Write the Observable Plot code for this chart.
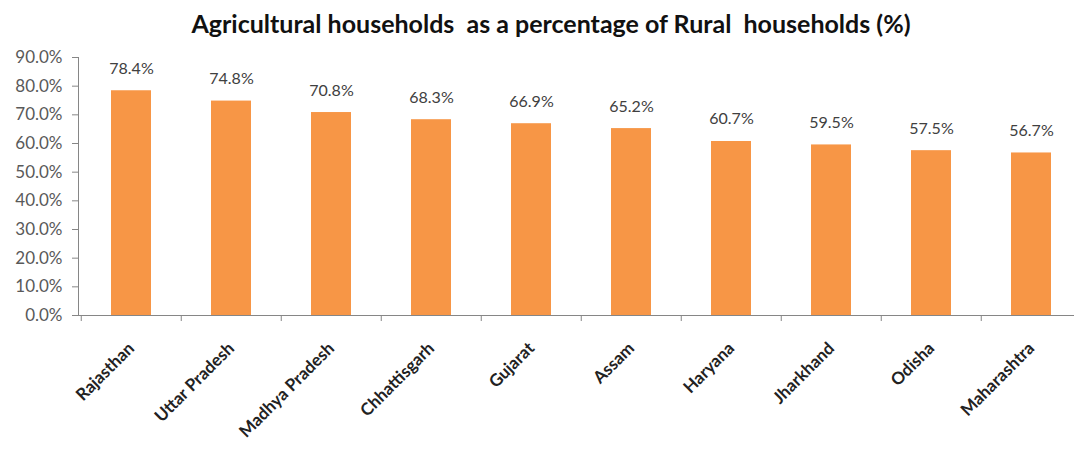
<!DOCTYPE html>
<html>
<head>
<meta charset="utf-8">
<script src="https://cdn.jsdelivr.net/npm/d3@7"></script>
<script src="https://cdn.jsdelivr.net/npm/@observablehq/plot@0.6"></script>
<style>
  html, body { margin: 0; padding: 0; background: #fff; }
  #title { height: 40px; line-height: 46px; text-align: center; font-family: Lato, "Open Sans", sans-serif; font-weight: bold; font-size: 25px; color: #111; padding-left: 28px; box-sizing: border-box; width: 1074px; white-space: nowrap; }
  svg { display: block; }
</style>
</head>
<body>
<div id="title">Agricultural households&nbsp; as a percentage of Rural&nbsp; households (%)</div>
<div id="chart"></div>
<script>
const states = ["Rajasthan", "Uttar Pradesh", "Madhya Pradesh", "Chhattisgarh", "Gujarat", "Assam", "Haryana", "Jharkhand", "Odisha", "Maharashtra"];
const values = [78.4, 74.8, 70.8, 68.3, 66.9, 65.2, 60.7, 59.5, 57.5, 56.7];
const yTicks = [0, 10, 20, 30, 40, 50, 60, 70, 80, 90];

const data = states.map((s, i) => ({state: s, value: values[i]}));

const plot = Plot.plot({
  width: 1074,
  height: 416,
  marginTop: 17,
  marginBottom: 141,
  marginLeft: 78,
  marginRight: 0,
  style: {fontFamily: "Lato, 'Open Sans', sans-serif", overflow: "visible"},
  x: {domain: states, range: [78, 1083], paddingInner: 0.6, paddingOuter: 0.3, label: null},
  y: {domain: [0, 90], label: null},
  marks: [
    Plot.barY(data, {x: "state", y: "value", fill: "#F79646"}),
    Plot.axisY({ticks: yTicks, tickFormat: d => d.toFixed(1) + "%", tickSize: 6, tickPadding: 10, fontSize: 17, color: "#595959", stroke: "#868686", label: null}),
    Plot.axisX({tickSize: 0, tickRotate: -45, tickPadding: 30, fontSize: 17, fontWeight: "bold", color: "#222", label: null}),
    Plot.ruleX(states, {x: d => d, y1: 0, y2: 0, dx: -50.25, insetBottom: -6, stroke: "#868686"}),
    Plot.frame({anchor: "left", stroke: "#868686"}),
    Plot.ruleY([0], {stroke: "#868686"}),
    Plot.text(data, {x: "state", y: "value", text: d => d.value.toFixed(1) + "%", lineAnchor: "bottom", dy: -17, fontSize: 16, fill: "#404040"})
  ]
});
document.getElementById("chart").append(plot);
</script>
</body>
</html>
